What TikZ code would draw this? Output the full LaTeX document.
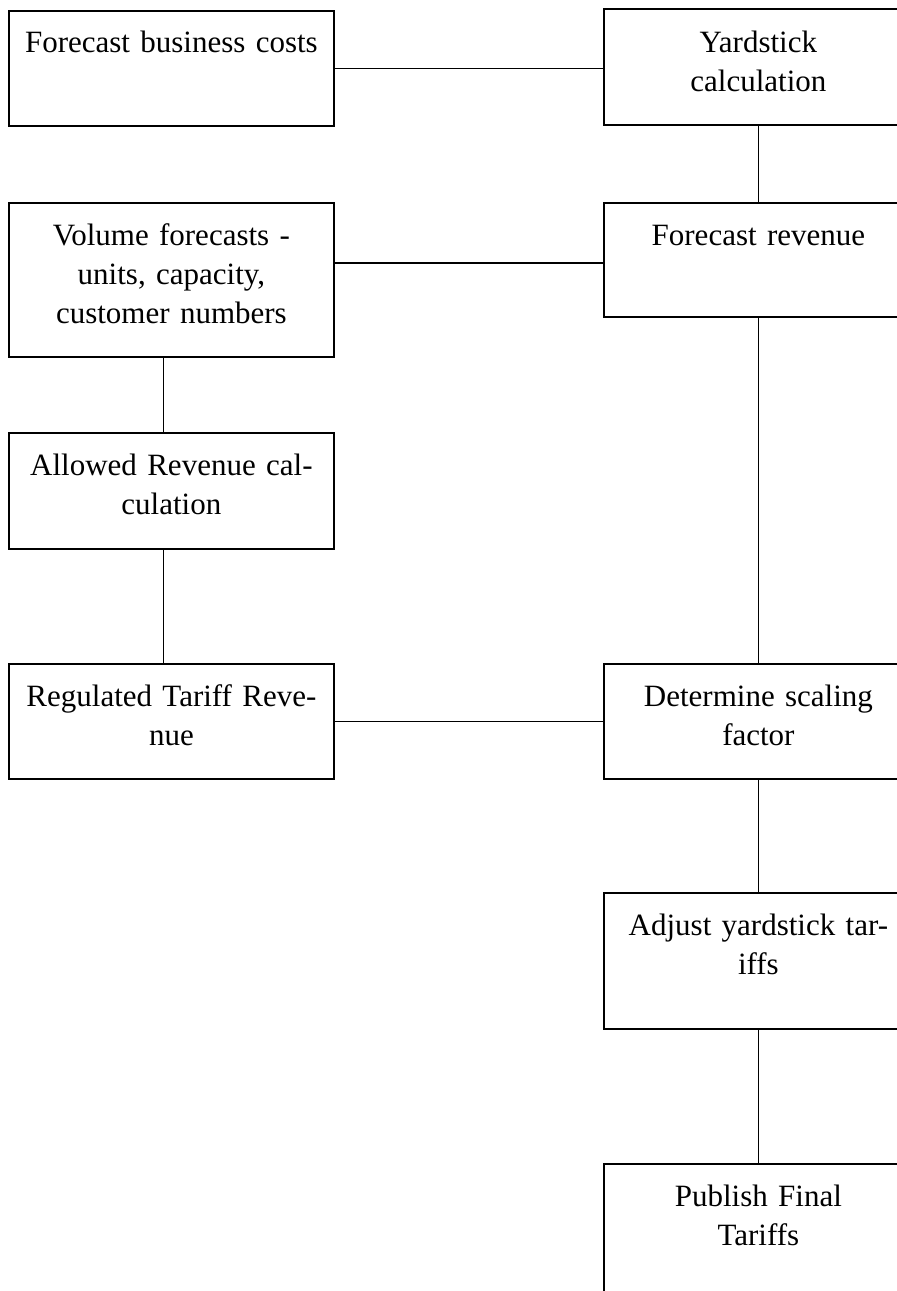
\documentclass[tikz,border=0pt]{standalone}
\usepackage{fontspec}
\setmainfont{Liberation Serif}
\newcommand{\fstrut}{\rule{0pt}{25pt}}
\begin{document}
\begin{tikzpicture}[x=1pt,y=-1pt,
  box/.style={draw=black,line width=1.8pt,anchor=north west,inner sep=0pt},
  lbl/.style={anchor=north,inner sep=0pt,align=center,text width=320pt,font=\fontsize{31}{39}\selectfont},
  conn/.style={draw=black,line width=1.8pt}]
\useasboundingbox (0,0) rectangle (897,1291);
\clip (0,0) rectangle (897,1291);
% boxes
\node[box,minimum width=325pt,minimum height=115pt] (fbc) at (8,10) {};
\node[box,minimum width=309pt,minimum height=116pt] (yard) at (603,8) {};
\node[box,minimum width=325pt,minimum height=154pt] (vol) at (8,202) {};
\node[box,minimum width=309pt,minimum height=114pt] (rev) at (603,202) {};
\node[box,minimum width=325pt,minimum height=116pt] (allow) at (8,432) {};
\node[box,minimum width=325pt,minimum height=115pt] (reg) at (8,663) {};
\node[box,minimum width=309pt,minimum height=115pt] (det) at (603,663) {};
\node[box,minimum width=309pt,minimum height=136pt] (adj) at (603,892) {};
\node[box,minimum width=309pt,minimum height=160pt] (pub) at (603,1163) {};
% labels
\node[lbl] (fbc-t) at ([yshift=-17pt]fbc.north) {\fstrut Forecast business costs};
\node[lbl] (yard-t) at ([yshift=-19pt]yard.north) {\fstrut Yardstick\\calculation};
\node[lbl] (vol-t) at ([yshift=-18pt]vol.north) {\fstrut Volume forecasts -\\units, capacity,\\customer numbers};
\node[lbl] (rev-t) at ([yshift=-18pt]rev.north) {\fstrut Forecast revenue};
\node[lbl] (allow-t) at ([yshift=-18pt]allow.north) {\fstrut Allowed Revenue cal-\\culation};
\node[lbl] (reg-t) at ([yshift=-18pt]reg.north) {\fstrut Regulated Tariff Reve-\\nue};
\node[lbl] (det-t) at ([yshift=-18pt]det.north) {\fstrut Determine scaling\\factor};
\node[lbl] (adj-t) at ([yshift=-18pt]adj.north) {\fstrut Adjust yardstick tar-\\iffs};
\node[lbl] (pub-t) at ([yshift=-18pt]pub.north) {\fstrut Publish Final\\Tariffs};
% connectors
\draw[conn] (fbc.east) -- (fbc.east -| yard.west);
\draw[conn] (yard.south) -- (rev.north);
\draw[conn] ([yshift=-3pt]rev.west -| vol.east) -- ([yshift=-3pt]rev.west);
\draw[conn] ([xshift=-8pt]vol.south) -- ([xshift=-8pt]allow.north);
\draw[conn] ([xshift=-8pt]allow.south) -- ([xshift=-8pt]reg.north);
\draw[conn] (reg.east) -- (det.west);
\draw[conn] (rev.south) -- (det.north);
\draw[conn] (det.south) -- (adj.north);
\draw[conn] (adj.south) -- (pub.north);
\end{tikzpicture}
\end{document}
